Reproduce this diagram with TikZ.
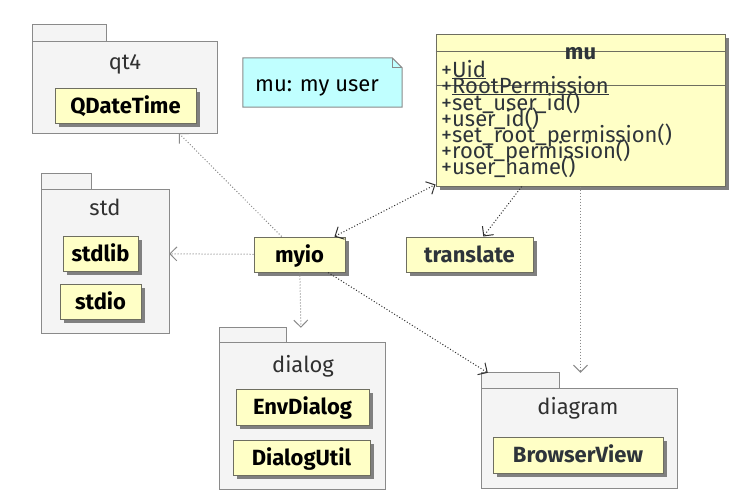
\documentclass[tikz,border=0pt]{standalone}
\usepackage{fontspec}
\setmainfont{Fira Sans}
\usetikzlibrary{arrows.meta,calc,shadows}
\definecolor{clsfill}{HTML}{FFFFC6}
\definecolor{clsborder}{HTML}{6E6E60}
\definecolor{clsdark}{HTML}{2E343A}
\definecolor{pkgfill}{HTML}{F4F4F4}
\definecolor{pkgborder}{HTML}{8A8A8A}
\definecolor{shadowc}{HTML}{808080}
\definecolor{notefill}{HTML}{C0FFFF}
\definecolor{lgray}{HTML}{8A8A8A}
\definecolor{dgray}{HTML}{303030}
\newcommand\pkgdraw[3]{%
  \fill[shadowc, shift={(4,4)}] (#1.north west) -- ($(#1.north west)+(#2,0)$) -- ($(#1.north west)+(#2,#3)$) -- ($(#1.north east)+(0,#3)$) -- (#1.south east) -- (#1.south west) -- cycle;
  \draw[pkgline] (#1.north west) -- ($(#1.north west)+(#2,0)$) -- ($(#1.north west)+(#2,#3)$) -- ($(#1.north east)+(0,#3)$) -- (#1.south east) -- (#1.south west) -- cycle;
  \draw[pkgline] ($(#1.north west)+(0,#3)$) -- ($(#1.north west)+(#2,#3)$);
}
\begin{document}
\begin{tikzpicture}[x=1pt,y=-1pt,
  cls/.style={rectangle, draw=clsborder, fill=clsfill, line width=1pt, inner sep=0pt,
    minimum height=35pt, text height=20pt, text depth=5pt,
    font=\bfseries\fontsize{22}{24}\selectfont,
    drop shadow={shadow xshift=4pt, shadow yshift=-4pt, fill=shadowc, opacity=1}},
  pkgbox/.style={rectangle, inner sep=0pt, draw=none},
  pkgline/.style={draw=pkgborder, fill=pkgfill, line width=1pt},
  pkglabel/.style={anchor=base, inner sep=0pt, text=dgray, font=\fontsize{22}{24}\selectfont},
  mutext/.style={anchor=base west, inner sep=0pt, text=clsdark, font=\fontsize{22}{16}\selectfont},
  dep/.style={dash pattern=on 1pt off 2pt, line width=1pt, -{Straight Barb[length=7pt,width=14pt]}},
]
\useasboundingbox (0,0) rectangle (740,504);

% packages
\node[pkgbox, minimum width=184pt, minimum height=108pt] (qt4) at (125,79) {};
\pkgdraw{qt4}{74}{17}
\node[pkglabel] (qt4-label) at (125,69) {qt4};

\node[pkgbox, minimum width=127pt, minimum height=159pt] (std) at (105.5,253.5) {};
\pkgdraw{std}{50}{16}
\node[pkglabel] (std-label) at (105,215) {std};

\node[pkgbox, minimum width=165pt, minimum height=161pt] (dialog) at (302.5,408.5) {};
\pkgdraw{dialog}{67}{15}
\node[pkglabel] (dialog-label) at (303,372) {dialog};

\node[pkgbox, minimum width=195pt, minimum height=115pt] (diagram) at (579.5,430.5) {};
\pkgdraw{diagram}{78}{16}
\node[pkglabel] (diagram-label) at (578,414) {diagram};

% classes
\node[cls, minimum width=141pt] (qdt) at (125.5,105.5) {QDateTime};
\node[cls, minimum width=75pt] (stdlib) at (100.5,253.5) {stdlib};
\node[cls, minimum width=81pt] (stdio) at (100.5,301.5) {stdio};
\node[cls, minimum width=91pt] (myio) at (299.5,254.5) {myio};
\node[cls, minimum width=127pt, text=clsdark] (translate) at (469.5,254.5) {translate};
\node[cls, minimum width=133pt, minimum height=36pt] (envdialog) at (302.5,407) {EnvDialog};
\node[cls, minimum width=137pt] (dialogutil) at (301.5,457.5) {DialogUtil};
\node[cls, minimum width=170pt, minimum height=36pt, text=clsdark] (browserview) at (578,455) {BrowserView};

% note
\node[rectangle, draw=none, inner sep=0pt, minimum width=159pt, minimum height=49pt] (note) at (322.5,82.5) {};
\draw[draw=pkgborder, fill=notefill, line width=1pt] (note.north west) -- ($(note.north east)+(-10,0)$) -- ($(note.north east)+(0,10)$) -- (note.south east) -- (note.south west) -- cycle;
\draw[draw=pkgborder, line width=1pt] ($(note.north east)+(-10,0)$) -- ($(note.north east)+(-10,10)$) -- ($(note.north east)+(0,10)$);
\node[anchor=base west, inner sep=0pt, text=black, font=\fontsize{22}{24}\selectfont] (note-text) at (255,91) {mu: my user};

% class mu
\node[cls, minimum width=289pt, minimum height=152pt, text height=0pt, text depth=0pt] (mu) at (580.5,110) {};
\draw[draw=clsborder, line width=1pt] ($(mu.north west)+(0,18)$) -- ($(mu.north east)+(0,18)$);
\draw[draw=clsborder, line width=1pt] ($(mu.north west)+(0,52)$) -- ($(mu.north east)+(0,52)$);
\node[mutext, anchor=base, font=\bfseries\fontsize{22}{16}\selectfont] (mu-title) at (580.5,59) {mu};
\node[mutext] (mu-a1) at (441,77) {+\underline{Uid}};
\node[mutext] (mu-a2) at (441,93) {+\underline{RootPermission}};
\node[mutext] (mu-m1) at (441,110) {+set\_user\_id()};
\node[mutext] (mu-m2) at (441,126) {+user\_id()};
\node[mutext] (mu-m3) at (441,142) {+set\_root\_permission()};
\node[mutext] (mu-m4) at (441,158) {+root\_permission()};
\node[mutext] (mu-m5) at (441,174) {+user\_name()};

% connectors
\draw[dep, lgray] (myio) -- (qt4);
\draw[dep, lgray] (myio) -- (std);
\draw[dep, lgray] (myio) -- (dialog);
\draw[dep, dgray, {Straight Barb[length=7pt,width=14pt]}-{Straight Barb[length=7pt,width=14pt]}] (myio) -- (mu);
\draw[dep, dgray] (mu) -- (translate);
\draw[dep, dgray] (myio) -- (diagram);
\draw[dep, lgray] (mu.south) -- (mu.south |- diagram.north);
\end{tikzpicture}
\end{document}
